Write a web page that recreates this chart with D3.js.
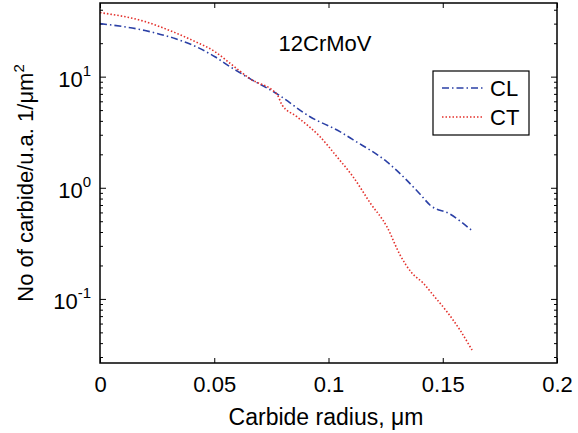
<!DOCTYPE html>
<html lang="en">
  <head>
    <meta charset="utf-8"/>
    <script src="https://d3js.org/d3.v7.min.js"></script>
    <style>
      body { margin: 0; background: #fff; }
      text { font-family: "Liberation Sans", Arial, sans-serif; fill: #000; }
    </style>
  </head>
  <body>
    <svg id="svg_main"></svg>
    <script>
      const width = 578;
      const height = 433;

      // plot box
      const boxLeft = 100, boxRight = 557, boxTop = 3, boxBottom = 363;

      // carbide radius (um) and counts (1/um^2)
      let clRadius = [0, 0.0197, 0.0328, 0.0416, 0.0503, 0.0569, 0.0656, 0.0775, 0.0919, 0.105, 0.1107, 0.1256, 0.140, 0.1444, 0.1532, 0.1624];
      let clCount  = [30.0, 26.0, 22.0, 18.8, 15.1, 12.3, 9.6, 7.0, 4.36, 3.2, 2.71, 1.71, 0.88, 0.70, 0.58, 0.418];

      let ctRadius = [0, 0.0197, 0.0328, 0.0416, 0.0503, 0.0569, 0.0656, 0.0775, 0.0796, 0.0862, 0.0963, 0.1037, 0.1107, 0.1182, 0.1256, 0.1313, 0.1365, 0.1414, 0.1457, 0.1519, 0.1575, 0.1628];
      let ctCount  = [37.7, 31.3, 24.9, 20.7, 16.8, 13.2, 9.6, 6.9, 5.6, 4.36, 2.88, 1.90, 1.26, 0.733, 0.445, 0.249, 0.171, 0.139, 0.109, 0.0764, 0.0526, 0.0347];

      let xTicks = [0, 0.05, 0.1, 0.15, 0.2];
      let yDecades = [-1, 0, 1];

      let series = [
        {name: "CL", x: clRadius, y: clCount, color: "#2b40a6", dash: "7,3,1.5,3"},
        {name: "CT", x: ctRadius, y: ctCount, color: "#e3302b", dash: "1.5,2"}
      ];

      let xScale = d3.scaleLinear().domain([0, 0.2]).range([boxLeft, boxRight]);
      let yScale = d3.scaleLog().domain([0.0265, 46]).range([boxBottom, boxTop]);

      let svg = d3.select("#svg_main")
          .attr("width", width)
          .attr("height", height);

      svg.append("rect")
          .attr("width", width).attr("height", height)
          .attr("fill", "#fff");

      // minor log ticks
      let minor = [];
      for (let k = -2; k <= 1; k++) {
        for (let m = 2; m <= 9; m++) {
          let v = m * Math.pow(10, k);
          if (v > yScale.domain()[0] && v < yScale.domain()[1]) minor.push(v);
        }
      }

      let axes = svg.append("g").attr("class", "axes");

      // x ticks, bottom and top, pointing inward
      let xAxisB = d3.axisBottom(xScale).tickValues(xTicks).tickSize(-5).tickPadding(13)
          .tickFormat(d => d === 0 ? "0" : String(d));
      let xg = axes.append("g")
          .attr("transform", "translate(0," + boxBottom + ")")
          .call(xAxisB);
      xg.select(".domain").remove();
      xg.attr("font-family", null);
      xg.selectAll("text").attr("font-size", 22);

      let xgTop = axes.append("g")
          .attr("transform", "translate(0," + boxTop + ")")
          .call(d3.axisTop(xScale).tickValues(xTicks).tickSize(-5).tickFormat(""));
      xgTop.select(".domain").remove();

      // y ticks, left and right
      let ygL = axes.append("g")
          .attr("transform", "translate(" + boxLeft + ",0)")
          .call(d3.axisLeft(yScale).tickValues(yDecades.map(e => Math.pow(10, e))).tickSize(-6).tickFormat(""));
      ygL.select(".domain").remove();
      let ygLm = axes.append("g")
          .attr("transform", "translate(" + boxLeft + ",0)")
          .call(d3.axisLeft(yScale).tickValues(minor).tickSize(-3).tickFormat(""));
      ygLm.select(".domain").remove();
      let ygR = axes.append("g")
          .attr("transform", "translate(" + boxRight + ",0)")
          .call(d3.axisRight(yScale).tickValues(yDecades.map(e => Math.pow(10, e))).tickSize(-6).tickFormat(""));
      ygR.select(".domain").remove();
      let ygRm = axes.append("g")
          .attr("transform", "translate(" + boxRight + ",0)")
          .call(d3.axisRight(yScale).tickValues(minor).tickSize(-3).tickFormat(""));
      ygRm.select(".domain").remove();

      // y tick labels as 10^e
      let ylab = svg.append("g");
      yDecades.forEach(function(e) {
        let t = ylab.append("text")
            .attr("x", 91)
            .attr("y", yScale(Math.pow(10, e)) + 10)
            .attr("text-anchor", "end")
            .attr("font-size", 22);
        t.append("tspan").text("10");
        t.append("tspan").attr("dy", -11).attr("font-size", 15).text(String(e));
      });

      // curves
      let line = d3.line()
          .curve(d3.curveMonotoneX)
          .x(d => xScale(d[0]))
          .y(d => yScale(d[1]));

      series.forEach(function(s) {
        svg.append("path")
            .datum(s.x.map((v, i) => [v, s.y[i]]))
            .attr("fill", "none")
            .attr("stroke", s.color)
            .attr("stroke-width", 1.6)
            .attr("stroke-dasharray", s.dash)
            .attr("d", line);
      });

      // box
      svg.append("rect")
          .attr("x", boxLeft).attr("y", boxTop)
          .attr("width", boxRight - boxLeft).attr("height", boxBottom - boxTop)
          .attr("fill", "none")
          .attr("stroke", "#000")
          .attr("stroke-width", 1.5);

      // annotation
      svg.append("text")
          .attr("x", 325).attr("y", 51)
          .attr("text-anchor", "middle")
          .attr("font-size", 22)
          .text("12CrMoV");

      // legend
      let lg = svg.append("g");
      lg.append("rect")
          .attr("x", 433).attr("y", 71)
          .attr("width", 96).attr("height", 64)
          .attr("fill", "#fff")
          .attr("stroke", "#000")
          .attr("stroke-width", 1.2);
      series.forEach(function(s, i) {
        let y = 88 + i * 29;
        lg.append("line")
            .attr("x1", 442).attr("x2", 484)
            .attr("y1", y).attr("y2", y)
            .attr("stroke", s.color)
            .attr("stroke-width", 1.6)
            .attr("stroke-dasharray", s.dash);
        lg.append("text")
            .attr("x", 490).attr("y", y + 8)
            .attr("font-size", 22)
            .text(s.name);
      });

      // axis titles
      svg.append("text")
          .attr("x", 326).attr("y", 425)
          .attr("text-anchor", "middle")
          .attr("font-size", 23)
          .text("Carbide radius, \u03bcm");

      let yt = svg.append("text")
          .attr("transform", "translate(33," + ((boxTop + boxBottom) / 2) + ") rotate(-90)")
          .attr("text-anchor", "middle")
          .attr("font-size", 22);
      yt.append("tspan").text("No of carbide/u.a. 1/\u03bcm");
      yt.append("tspan").attr("dy", -9).attr("font-size", 15).text("2");
    </script>
  </body>
</html>
